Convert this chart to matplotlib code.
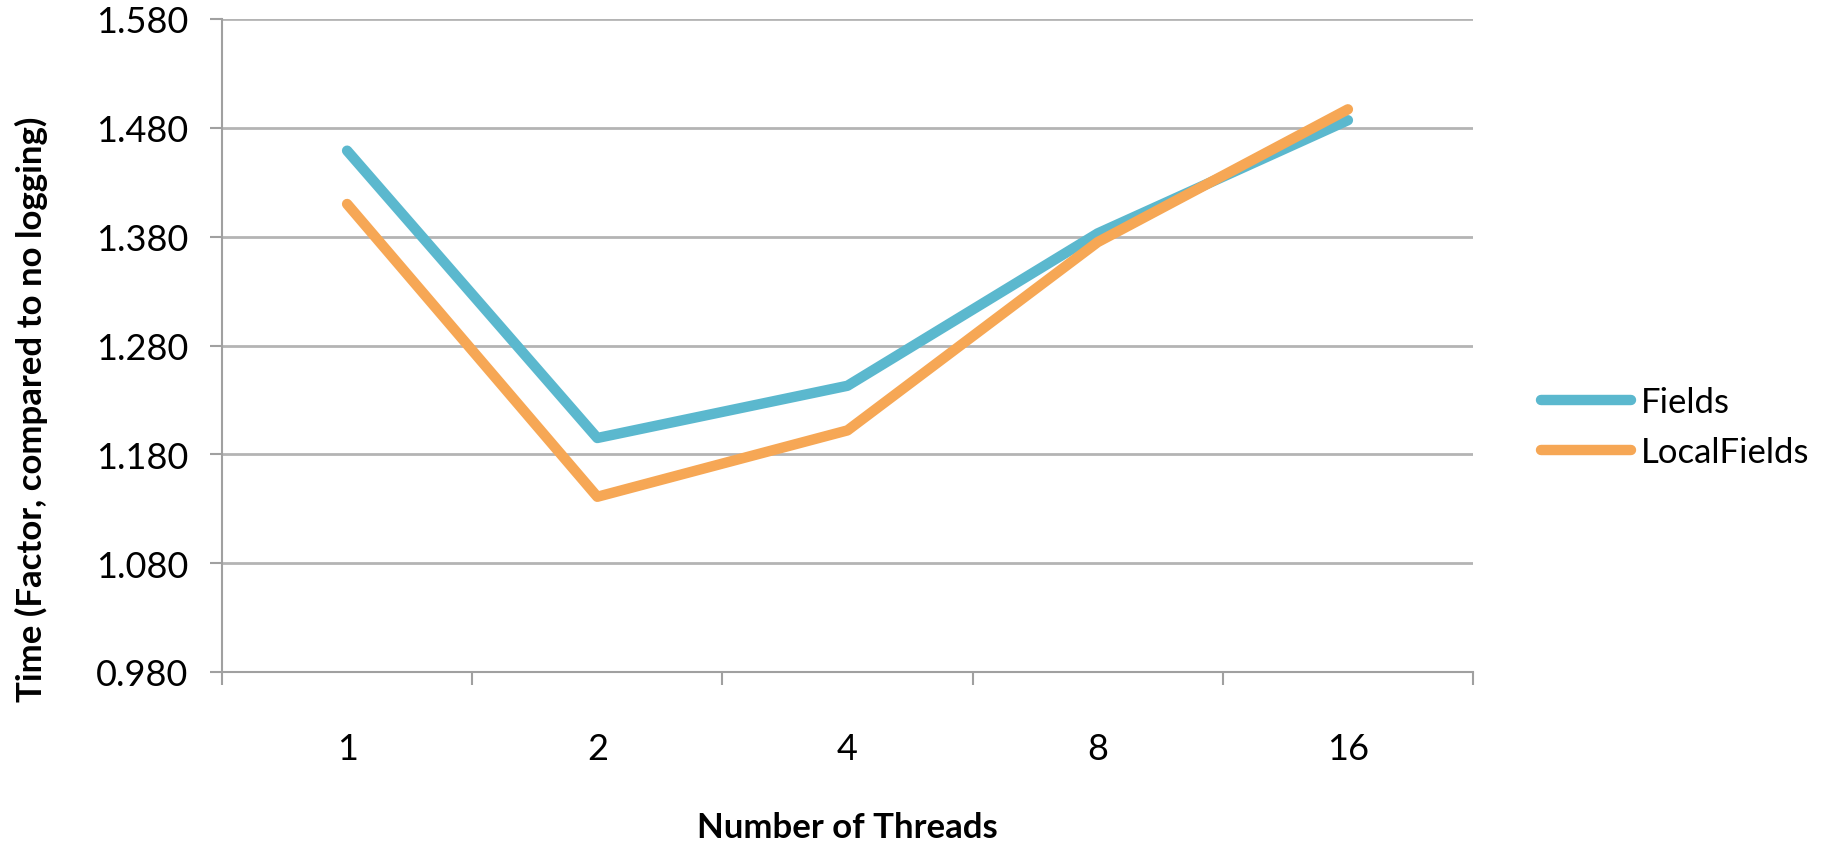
import matplotlib.pyplot as plt
import numpy as np

# data
threads = ['1', '2', '4', '8', '16']
fields = [1.459, 1.195, 1.243, 1.383, 1.487]
local_fields = [1.410, 1.141, 1.202, 1.375, 1.497]
yticks = [0.980, 1.080, 1.180, 1.280, 1.380, 1.480, 1.580]

plt.rcParams['font.family'] = ['Lato', 'DejaVu Sans']

fig = plt.figure(figsize=(18.33, 8.45), dpi=100)
ax = fig.add_axes([222 / 1833, 1 - 673 / 845, (1473 - 222) / 1833, (673 - 20) / 845])

x = np.arange(len(threads))
ax.plot(x, fields, color='#5BB8CE', lw=7.5, solid_capstyle='round',
        solid_joinstyle='round', label='Fields', zorder=3)
ax.plot(x, local_fields, color='#F6A755', lw=7.5, solid_capstyle='round',
        solid_joinstyle='round', label='LocalFields', zorder=3)

ax.set_xlim(-0.5, len(threads) - 0.5)
ax.set_ylim(yticks[0], yticks[-1])
ax.set_yticks(yticks)
ax.set_yticklabels(['%.3f' % v for v in yticks])
ax.set_xticks(x)
ax.set_xticklabels(threads)
ax.set_xticks(np.arange(len(threads) + 1) - 0.5, minor=True)

ax.grid(axis='y', color='#b4b4b4', lw=2)
ax.set_axisbelow(True)
for s in ['top', 'right']:
    ax.spines[s].set_visible(False)
for s in ['left', 'bottom']:
    ax.spines[s].set_color('#a0a0a0')
    ax.spines[s].set_linewidth(1.5)

ax.tick_params(axis='y', length=9, width=1.5, color='#a0a0a0', labelsize=26, pad=15)
ax.tick_params(axis='x', which='major', length=0, labelsize=26, pad=43)
ax.tick_params(axis='x', which='minor', length=9, width=1.5, color='#a0a0a0')

ax.set_xlabel('Number of Threads', fontsize=25, fontweight='bold', labelpad=33)
ax.set_ylabel('Time (Factor, compared to no logging)', fontsize=25, fontweight='bold')
ax.yaxis.set_label_coords(-0.139, 0.404)

ax.legend(loc='center left', bbox_to_anchor=(1.029, 0.375), frameon=False,
          fontsize=25, handlelength=2.6, handletextpad=0.3, labelspacing=0.5)

plt.savefig('out.png', dpi=100)
